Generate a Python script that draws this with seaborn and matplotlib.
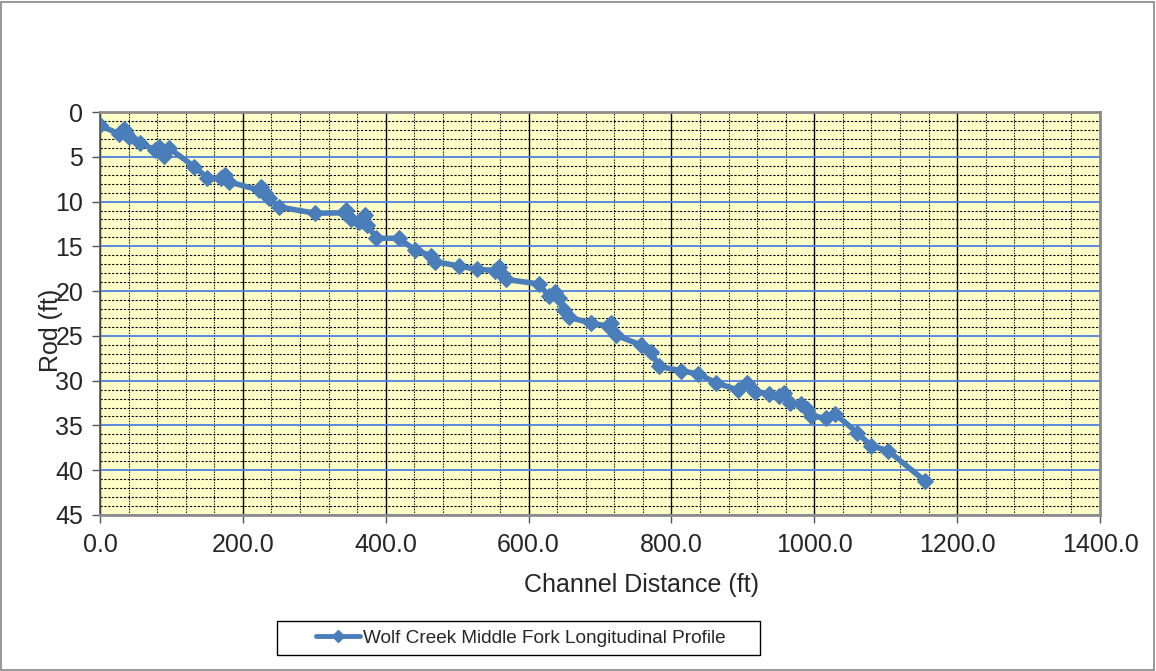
import matplotlib
matplotlib.use("Agg")
import matplotlib.pyplot as plt
from matplotlib.ticker import MultipleLocator, FormatStrFormatter
from matplotlib.patches import Rectangle
import seaborn as sns
import pandas as pd

distance = [0, 27, 33, 36, 41, 56, 77, 82, 90, 97, 132, 150, 169, 175, 180,
            222, 226, 231, 236, 250, 301, 343, 345, 352, 362, 371, 374, 387,
            418, 441, 464, 469, 502, 528, 553, 558, 562, 569, 614, 628, 637,
            642, 649, 656, 688, 711, 716, 723, 757, 772, 782, 814, 837, 863,
            893, 906, 917, 936, 950, 958, 966, 982, 990, 995, 1016, 1029,
            1060, 1080, 1103, 1155]
rod = [1.5, 2.46, 1.85, 2.3, 2.76, 3.5, 4.2, 3.95, 4.95, 4.06, 6.1, 7.35, 7.4,
       7.05, 7.8, 8.7, 8.35, 9.0, 9.55, 10.6, 11.3, 11.26, 10.96, 11.9, 12.27,
       11.5, 12.6, 14.1, 14.1, 15.4, 16.07, 16.7, 17.2, 17.56, 17.7, 17.3,
       18.0, 18.7, 19.2, 20.5, 20.1, 20.8, 22.1, 22.9, 23.6, 23.9, 23.6,
       24.95, 26.0, 26.8, 28.4, 28.9, 29.25, 30.25, 31.05, 30.3, 31.3, 31.45,
       31.7, 31.4, 32.5, 32.6, 33.2, 33.9, 34.2, 33.7, 35.8, 37.3, 37.8, 41.2]
series_name = "Wolf Creek Middle Fork Longitudinal Profile"
x_label = "Channel Distance (ft)"
y_label = "Rod (ft)"

df = pd.DataFrame({"Distance": distance, "Rod": rod,
                   "Series": [series_name] * len(distance)})

sns.set_style("white")
plt.rcParams["font.family"] = ["Liberation Sans", "DejaVu Sans"]

fig = plt.figure(figsize=(11.56, 6.71), dpi=100)
ax = fig.add_axes([100 / 1156, 1 - 515 / 671, 1000 / 1156, 403 / 671])
ax.set_facecolor("#FFFFC8")

line_color = "#4A7EBB"
sns.lineplot(data=df, x="Distance", y="Rod", hue="Series", sort=False,
             palette=[line_color], marker="D", markersize=8,
             markeredgecolor=line_color, linewidth=4.0, ax=ax, legend=False)

ax.set_xlim(0, 1400)
ax.set_ylim(45, 0)
ax.xaxis.set_major_locator(MultipleLocator(200))
ax.xaxis.set_minor_locator(MultipleLocator(40))
ax.yaxis.set_major_locator(MultipleLocator(5))
ax.yaxis.set_minor_locator(MultipleLocator(1))
ax.xaxis.set_major_formatter(FormatStrFormatter("%.1f"))

ax.grid(which="minor", axis="y", color="black", linestyle=(0, (2, 1.5)),
        linewidth=0.8, zorder=0)
ax.grid(which="minor", axis="x", color="black", linestyle=(0, (1.2, 1.2)),
        linewidth=0.8, zorder=0)
ax.grid(which="major", axis="y", color="#4D7FE0", linestyle="-",
        linewidth=1.3, zorder=0)
ax.grid(which="major", axis="x", color="black", linestyle="-",
        linewidth=1.0, zorder=0)
ax.set_axisbelow(True)

ax.tick_params(axis="both", which="major", labelsize=18, length=6,
               width=1, color="#555555", direction="out", left=True,
               bottom=True)
ax.tick_params(axis="x", which="major", pad=7)
ax.tick_params(axis="y", which="major", pad=6)
ax.tick_params(axis="both", which="minor", length=0)

for side in ["top", "right", "bottom"]:
    ax.spines[side].set_color("#8C8C8C")
    ax.spines[side].set_linewidth(2)
ax.spines["left"].set_color("#555555")
ax.spines["left"].set_linewidth(1.2)

ax.set_xlabel(x_label, fontsize=18)
ax.xaxis.set_label_coords(0.541, -0.145)
ax.set_ylabel(y_label, fontsize=18)
ax.yaxis.set_label_coords(-0.037, 0.459)

handle = plt.Line2D([], [], color=line_color, linewidth=3.5, marker="D",
                    markersize=6)
leg = fig.legend([handle], [series_name], loc="center",
                 bbox_to_anchor=(521 / 1156, 1 - 638 / 671),
                 prop={"size": 13.7}, frameon=False, handlelength=2.3,
                 handletextpad=0.15, borderpad=0.0, borderaxespad=0)

# legend frame (Excel draws it wider than the content)
fig.add_artist(Rectangle((277 / 1156, 1 - 655 / 671), 483 / 1156, 34 / 671,
                         transform=fig.transFigure, fill=False,
                         edgecolor="black", linewidth=1.0))

fig.add_artist(Rectangle((1 / 1156, 1 / 671), 1153 / 1156, 668 / 671,
                         transform=fig.transFigure, fill=False,
                         edgecolor="#868686", linewidth=1.2))

fig.savefig("out.png", dpi=100)
